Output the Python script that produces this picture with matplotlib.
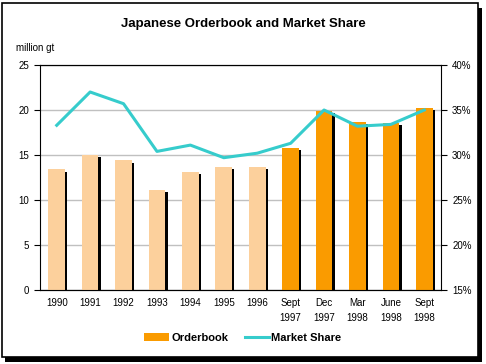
import numpy as np
import matplotlib
matplotlib.use("Agg")
import matplotlib.pyplot as plt
from matplotlib.patches import Rectangle, Patch
from matplotlib.lines import Line2D

plt.rcParams['font.family'] = ['Liberation Sans', 'DejaVu Sans']

# data
periods = ["1990", "1991", "1992", "1993", "1994", "1995", "1996",
           "Sept\n1997", "Dec\n1997", "Mar\n1998", "June\n1998", "Sept\n1998"]
orderbook = [13.4, 15.0, 14.4, 11.1, 13.1, 13.7, 13.7, 15.8, 19.9, 18.7, 18.6, 20.2]
market_share = [33.3, 37.0, 35.7, 30.4, 31.1, 29.7, 30.2, 31.3, 35.0, 33.2, 33.4, 35.0]
n_annual = 7  # first seven bars are the pale yearly ones

light = "#FCD09C"
orange = "#FA9B00"
cyan = "#36CCCC"

fig = plt.figure(figsize=(4.86, 3.64), dpi=100)
fig.patch.set_facecolor("white")

# frame with drop shadow (behind the axes)
fig.patches.append(Rectangle((5 / 486, 1 - 362 / 364), 477 / 486, 354 / 364,
                             transform=fig.transFigure, facecolor="black",
                             edgecolor="none", zorder=-2))
fig.patches.append(Rectangle((2 / 486, 1 - 357 / 364), 476 / 486, 354 / 364,
                             transform=fig.transFigure, facecolor="white",
                             edgecolor="black", linewidth=1.2, zorder=-1))

ax1 = fig.add_axes([40 / 486, 1 - 290 / 364, 401 / 486, 225 / 364])
ax1.set_facecolor("none")
x = np.arange(len(periods))
colors = [light] * n_annual + [orange] * (len(periods) - n_annual)

# bar shadows, then bars
ax1.bar(x + 0.07, np.array(orderbook) - 0.25, width=0.5, color="black", zorder=2)
ax1.bar(x, orderbook, width=0.5, color=colors, zorder=3)

ax1.set_xlim(-0.5, len(periods) - 0.5)
ax1.set_ylim(0, 25)
ax1.set_yticks([0, 5, 10, 15, 20, 25])
ax1.set_xticks(x)
ax1.set_xticklabels(periods, fontsize=7, linespacing=1.6)
ax1.tick_params(axis="x", length=0, pad=6)
ax1.tick_params(axis="y", labelsize=7, length=4, direction="out", pad=4)
ax1.yaxis.grid(True, color="#C0C0C0", linewidth=1)
ax1.set_axisbelow(True)
ax1.spines["right"].set_visible(False)

ax2 = ax1.twinx()
ax2.plot(x, market_share, color=cyan, linewidth=2.2, zorder=5)
ax2.set_ylim(15, 40)
ax2.set_yticks([15, 20, 25, 30, 35, 40])
ax2.set_yticklabels([f"{v}%" for v in [15, 20, 25, 30, 35, 40]])
ax2.tick_params(axis="y", labelsize=7, length=4, direction="out", pad=4)
ax2.spines["left"].set_visible(False)

fig.text(0.5, 1 - 24 / 364, "Japanese Orderbook and Market Share",
         ha="center", va="center", fontsize=9.5, fontweight="bold")
fig.text(16 / 486, 1 - 48 / 364, "million gt", ha="left", va="center", fontsize=7)

handles = [Patch(facecolor=orange, edgecolor="none"),
           Line2D([0], [0], color=cyan, linewidth=2.2)]
fig.legend(handles, ["Orderbook", "Market Share"], loc="center",
           bbox_to_anchor=(0.5, 1 - 338 / 364), ncol=2, frameon=False,
           prop={"size": 8, "weight": "bold"}, handlelength=2.2,
           handletextpad=0.2, columnspacing=1.5)

fig.savefig("out.png", dpi=100)
